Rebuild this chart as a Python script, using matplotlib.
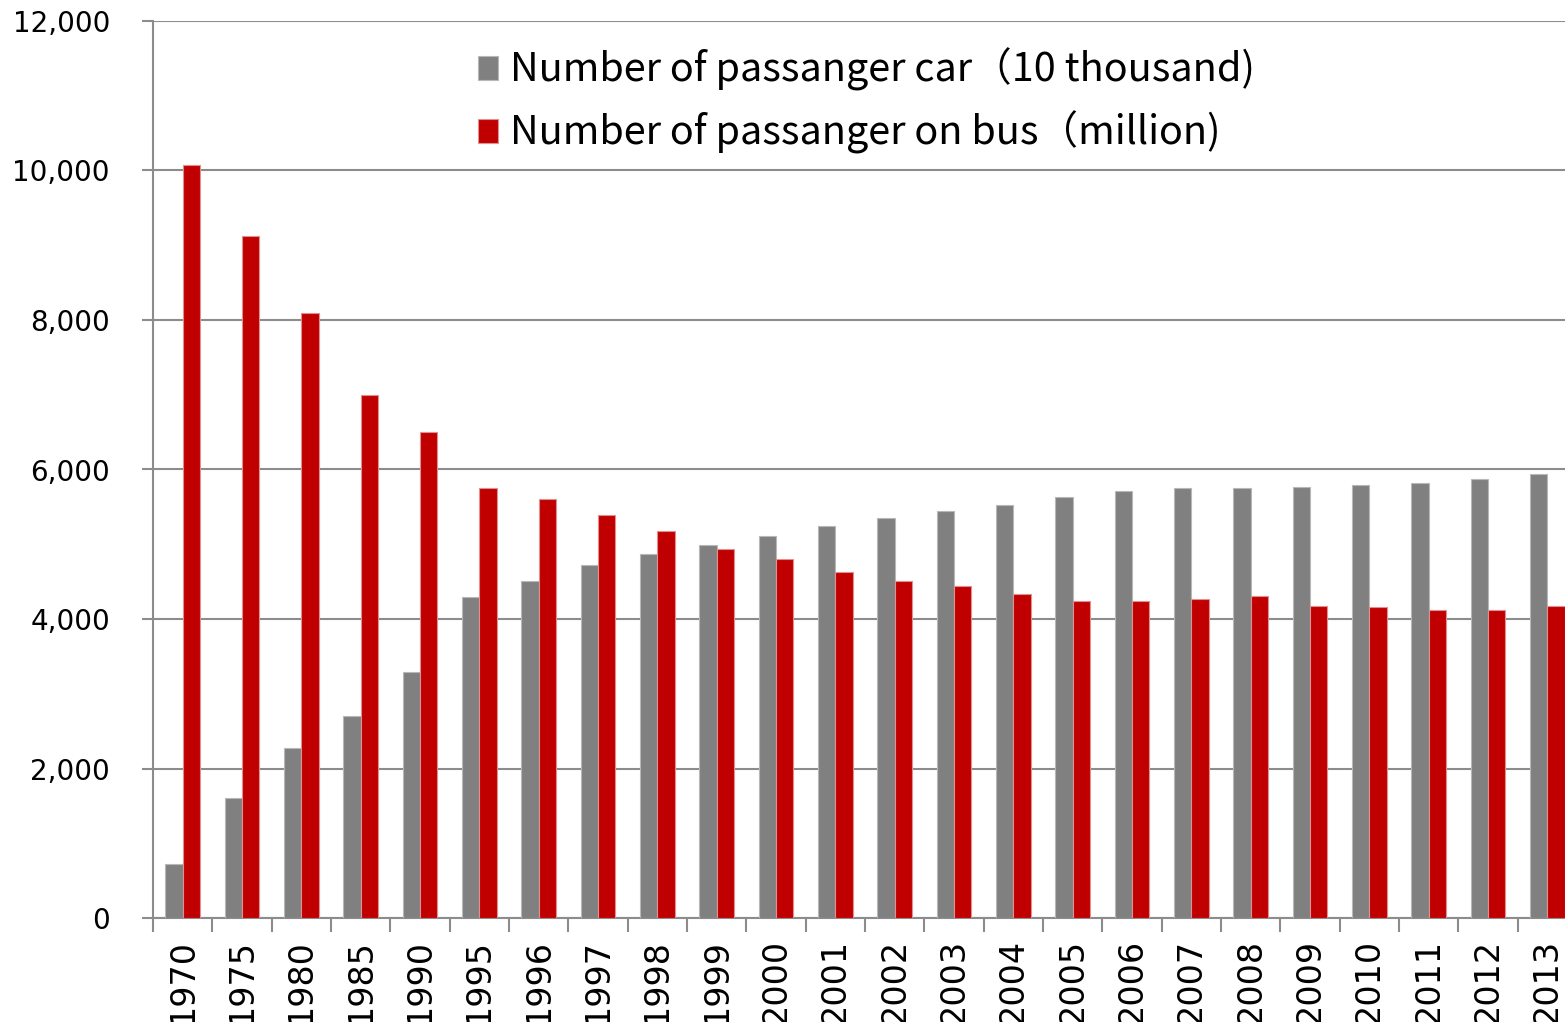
import numpy as np
import matplotlib
matplotlib.use("Agg")
import matplotlib.pyplot as plt
from matplotlib.ticker import FuncFormatter

plt.rcParams["font.family"] = ["DejaVu Sans"]

# data
years = ["1970", "1975", "1980", "1985", "1990", "1995", "1996", "1997", "1998",
         "1999", "2000", "2001", "2002", "2003", "2004", "2005", "2006", "2007",
         "2008", "2009", "2010", "2011", "2012", "2013"]
cars = [725, 1604, 2273, 2705, 3290, 4293, 4502, 4721, 4868,
        4993, 5113, 5243, 5350, 5443, 5528, 5626, 5706, 5746,
        5751, 5764, 5791, 5818, 5871, 5938]
bus = [10074, 9122, 8096, 7000, 6500, 5751, 5599, 5396, 5176,
       4935, 4801, 4631, 4502, 4444, 4337, 4243, 4239, 4261,
       4306, 4177, 4159, 4119, 4123, 4177]

label_car = "Number of passanger car（10 thousand)"
label_bus = "Number of passanger on bus（million)"

GRAY = "#808080"
RED = "#C00000"
AXCOL = "#8c8c8c"

fig = plt.figure(figsize=(15.65, 10.22), dpi=100)
ax = fig.add_axes([153 / 1565, 104 / 1022, 1424 / 1565, 897 / 1022])

x = np.arange(len(years))
w = 0.29
ax.bar(x - w / 2, cars, w, color=GRAY, edgecolor="#b8b8b8", linewidth=0.8,
       label=label_car, zorder=3)
ax.bar(x + w / 2, bus, w, color=RED, edgecolor="#e09090", linewidth=0.8,
       label=label_bus, zorder=3)

ax.set_xlim(-0.5, len(years) - 0.5)
ax.set_ylim(0, 12000)
ax.set_yticks(range(0, 12001, 2000))
ax.yaxis.set_major_formatter(FuncFormatter(lambda v, p: f"{int(v):,}"))
ax.tick_params(axis="y", length=8, width=1.5, color=AXCOL, labelsize=20,
               pad=23, labelcolor="black")

ax.set_xticks(x)
ax.set_xticklabels(years, rotation=90, fontsize=24)
ax.tick_params(axis="x", which="major", length=0, pad=15)
ax.set_xticks(np.arange(-0.5, len(years), 1.0), minor=True)
ax.tick_params(axis="x", which="minor", length=10, width=1.5, color=AXCOL)

ax.grid(axis="y", color=AXCOL, linewidth=1.5, zorder=0)
ax.set_axisbelow(True)
for s in ["top", "right"]:
    ax.spines[s].set_visible(False)
for s in ["left", "bottom"]:
    ax.spines[s].set_color(AXCOL)
    ax.spines[s].set_linewidth(1.5)

leg = ax.legend(loc="upper left", bbox_to_anchor=(462 / 1565, 1 - 32 / 1022),
                bbox_transform=fig.transFigure, frameon=False,
                prop={"family": ["Noto Sans CJK JP", "DejaVu Sans"], "size": 28.5},
                handlelength=0.52, handleheight=0.55, handletextpad=0.3,
                labelspacing=0.5, borderaxespad=0)

fig.savefig("out.png", dpi=100)
